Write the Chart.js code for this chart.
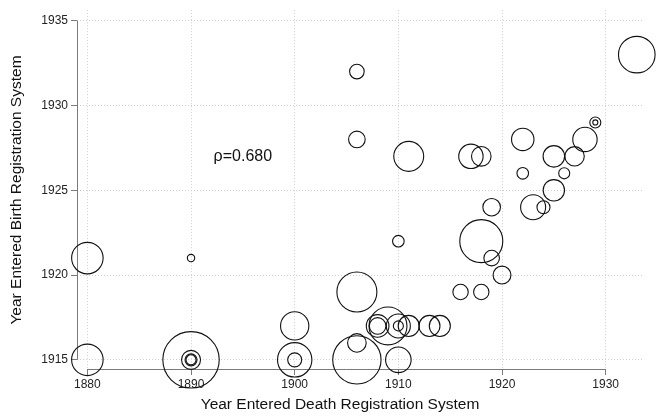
<!DOCTYPE html>
<html>
<head>
<meta charset="utf-8">
<script src="https://cdn.jsdelivr.net/npm/chart.js@4"></script>
<style>
  html, body { margin: 0; padding: 0; background: #fff; }
  canvas { display: block; }
</style>
</head>
<body>
<canvas id="chart" width="667" height="418"></canvas>
<script>
// year each state entered the death / birth registration system, and its weight
const deathYear = [1880, 1880, 1890, 1890, 1890, 1890, 1890, 1900, 1900, 1900,
  1906, 1906, 1906, 1906, 1906, 1908, 1908, 1909, 1910, 1910, 1911, 1913, 1914,
  1910, 1910, 1911, 1916, 1918, 1918, 1919, 1920, 1919, 1923, 1924, 1925, 1922,
  1926, 1917, 1918, 1925, 1927, 1922, 1928, 1929, 1929, 1933];
const birthYear = [1921, 1915, 1921, 1915, 1915, 1915, 1915, 1917, 1915, 1915,
  1932, 1928, 1919, 1916, 1915, 1917, 1917, 1917, 1917, 1917, 1917, 1917, 1917,
  1922, 1915, 1927, 1919, 1919, 1922, 1921, 1920, 1924, 1924, 1924, 1925, 1926,
  1926, 1927, 1927, 1927, 1927, 1928, 1928, 1929, 1929, 1933];
const weight = [62, 62, 3.4, 199, 22.6, 9, 6.3, 50, 74, 12.3,
  13.3, 17.2, 100, 21.6, 146, 32, 17.2, 90, 36, 6.3, 27.6, 27.6, 27.6,
  8.4, 41, 56, 14.8, 14.8, 115.6, 15.2, 20, 19.4, 39, 10.6, 28.6, 8.4,
  7.6, 37.2, 24, 29, 23.5, 31.4, 37.2, 7.6, 1.6, 83.7];

const xTicks = [1880, 1890, 1900, 1910, 1920, 1930];
const yTicks = [1915, 1920, 1925, 1930, 1935];
const rhoLabel = "ρ=0.680";
const rhoAt = { x: 1895, y: 1927 };
const xTitle = "Year Entered Death Registration System";
const yTitle = "Year Entered Birth Registration System";

const FONT = "'Liberation Sans', Arial, Helvetica, sans-serif";
const bubbleR = w => 2 * Math.sqrt(w);

const points = deathYear.map((x, i) => ({ x: x, y: birthYear[i], r: bubbleR(weight[i]) }));

// axis lines only over the tick range, plus the text annotations
const extras = {
  id: "extras",
  beforeDatasetsDraw(chart) {
    const { ctx, chartArea, scales: { x, y } } = chart;
    ctx.save();
    ctx.strokeStyle = "#7a7a7a";
    ctx.lineWidth = 1;
    ctx.beginPath();
    const ax = Math.round(chartArea.left) + 0.5;
    ctx.moveTo(ax, y.getPixelForValue(yTicks[yTicks.length - 1]));
    ctx.lineTo(ax, y.getPixelForValue(yTicks[0]));
    const ay = Math.round(chartArea.bottom) + 0.5;
    ctx.moveTo(x.getPixelForValue(xTicks[0]), ay);
    ctx.lineTo(x.getPixelForValue(xTicks[xTicks.length - 1]), ay);
    ctx.stroke();
    ctx.restore();
  },
  afterDraw(chart) {
    const { ctx, scales: { x, y } } = chart;
    ctx.save();
    ctx.fillStyle = "#111";
    ctx.textAlign = "center";
    ctx.textBaseline = "middle";
    ctx.font = "16px " + FONT;
    ctx.fillText(rhoLabel, x.getPixelForValue(rhoAt.x), y.getPixelForValue(rhoAt.y));
    ctx.font = "15.5px " + FONT;
    ctx.fillText(xTitle, 340, 405);
    ctx.translate(17, 190);
    ctx.rotate(-Math.PI / 2);
    ctx.fillText(yTitle, 0, 0);
    ctx.restore();
  }
};

new Chart(document.getElementById("chart"), {
  type: "bubble",
  data: {
    datasets: [{
      data: points,
      backgroundColor: "rgba(0,0,0,0)",
      borderColor: "#111",
      borderWidth: 1.1,
      clip: false
    }]
  },
  options: {
    responsive: false,
    animation: false,
    events: [],
    layout: { autoPadding: false, padding: { left: 0, top: 5, right: 24, bottom: 0 } },
    plugins: { legend: { display: false }, tooltip: { enabled: false } },
    scales: {
      x: {
        type: "linear",
        min: 1879,
        max: 1933.6,
        afterBuildTicks: s => { s.ticks = xTicks.map(v => ({ value: v })); },
        afterFit: s => { s.height = 49; },
        grid: { color: "#cfcfcf", lineWidth: 1, tickLength: 6, tickColor: "#7a7a7a", tickWidth: 1 },
        border: { display: false, dash: [1, 2] },
        ticks: { padding: 2, color: "#222", font: { family: FONT, size: 12 }, callback: v => String(v), maxRotation: 0 }
      },
      y: {
        type: "linear",
        min: 1914.46,
        max: 1935.62,
        afterBuildTicks: s => { s.ticks = yTicks.map(v => ({ value: v })); },
        afterFit: s => { s.width = 77; },
        grid: { color: "#cfcfcf", lineWidth: 1, tickLength: 6, tickColor: "#7a7a7a", tickWidth: 1 },
        border: { display: false, dash: [1, 2] },
        ticks: { padding: 3, color: "#222", font: { family: FONT, size: 12 }, callback: v => String(v) }
      }
    }
  },
  plugins: [extras]
});
</script>
</body>
</html>
